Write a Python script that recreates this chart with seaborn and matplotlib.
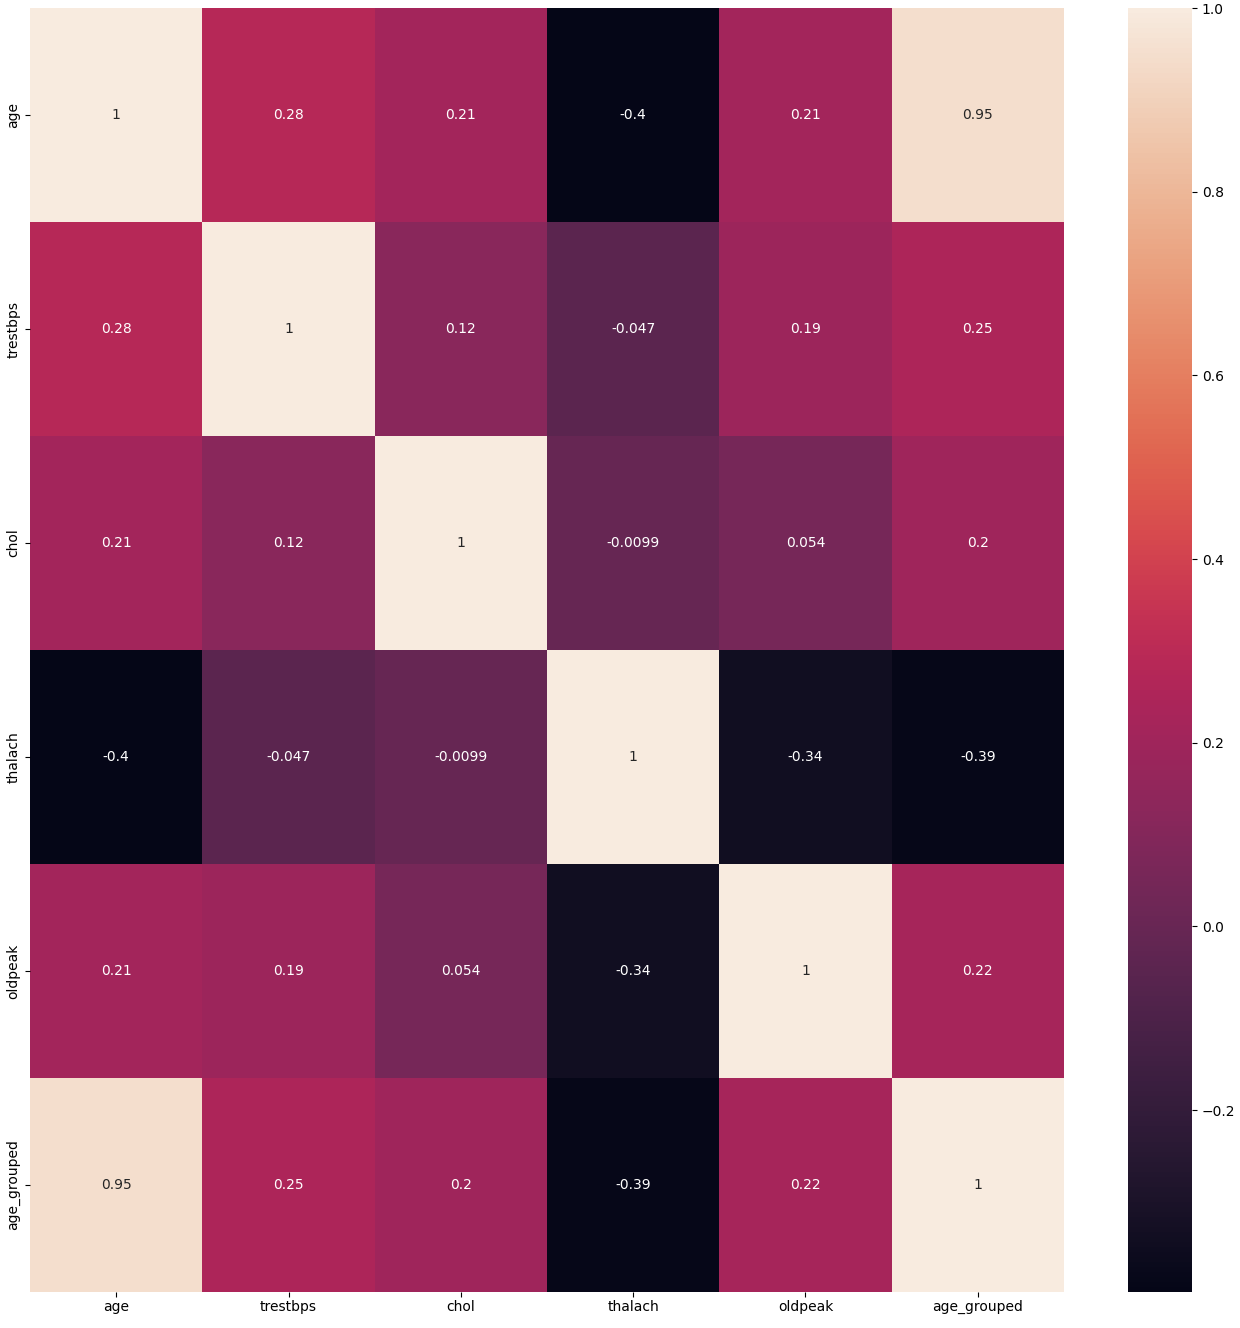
import matplotlib
matplotlib.use("Agg")
import matplotlib.pyplot as plt
from matplotlib.colors import ListedColormap
import seaborn as sns
import pandas as pd
import numpy as np

labels = ["age", "trestbps", "chol", "thalach", "oldpeak", "age_grouped"]
row_age = [1.0, 0.28, 0.21, -0.398, 0.21, 0.95]
row_trestbps = [0.28, 1.0, 0.12, -0.047, 0.19, 0.25]
row_chol = [0.21, 0.12, 1.0, -0.0099, 0.054, 0.2]
row_thalach = [-0.398, -0.047, -0.0099, 1.0, -0.34, -0.39]
row_oldpeak = [0.21, 0.19, 0.054, -0.34, 1.0, 0.22]
row_age_grouped = [0.95, 0.25, 0.2, -0.39, 0.22, 1.0]

df = pd.DataFrame([row_age, row_trestbps, row_chol, row_thalach, row_oldpeak, row_age_grouped],
                  index=labels, columns=labels)

rocket = sns.color_palette("rocket", 256)
cmap = ListedColormap([sns.desaturate(c, 0.82) for c in rocket])

W, H = 1240, 1328
fig = plt.figure(figsize=(W / 100, H / 100), dpi=100)
ax = fig.add_axes([30 / W, 1 - 1292 / H, (1064 - 30) / W, (1292 - 8) / H])
cax = fig.add_axes([1128 / W, 1 - 1292 / H, (1192 - 1128) / W, (1292 - 8) / H])
sns.heatmap(df, annot=True, ax=ax, cbar_ax=cax, cmap=cmap)
ax.tick_params(axis="x", pad=2)
fig.savefig("out.png", dpi=100)
